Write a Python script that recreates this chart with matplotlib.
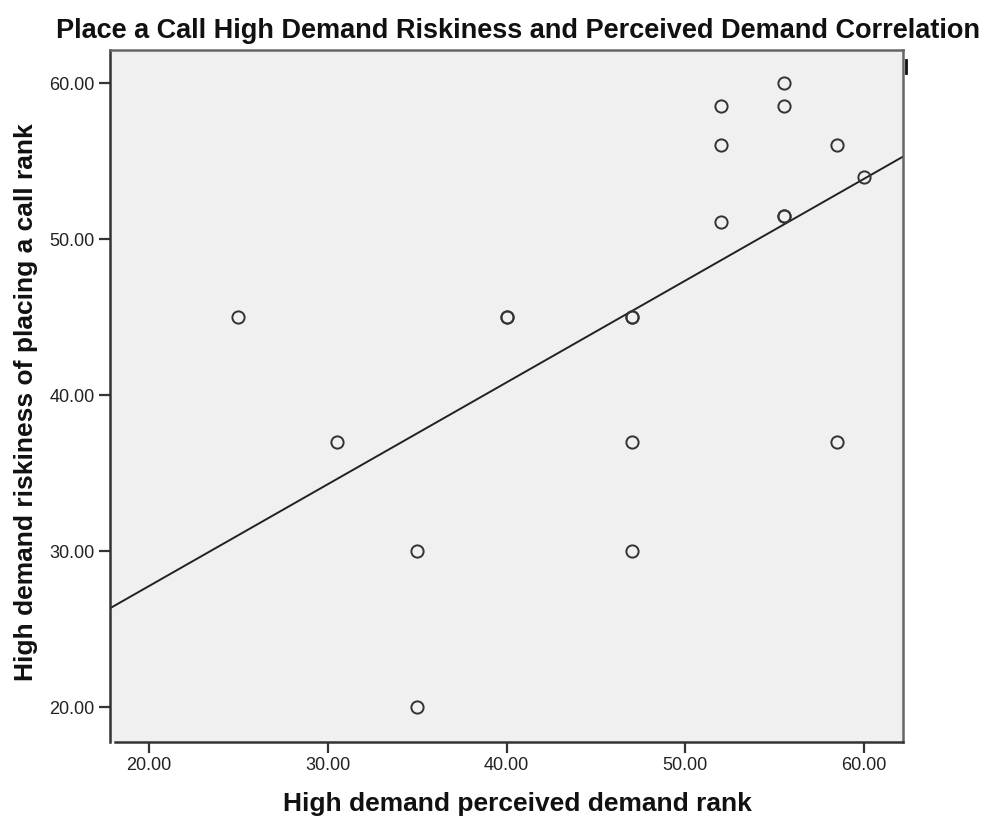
import numpy as np
from matplotlib import pyplot as plt
from matplotlib.lines import Line2D

# perceived demand rank vs riskiness rank, one row per respondent
perceived_rank = [25, 30.5, 35, 35, 40, 40, 47, 47, 47, 47,
                  52, 52, 52, 55.5, 55.5, 55.5, 55.5, 58.5, 58.5, 60]
riskiness_rank = [45, 37, 30, 20, 45, 45, 45, 45, 37, 30,
                  58.5, 56, 51.1, 60, 58.5, 51.5, 51.5, 56, 37, 54]

ticks = [20, 30, 40, 50, 60]
tick_labels = ["20.00", "30.00", "40.00", "50.00", "60.00"]

TITLE = "Place a Call High Demand Riskiness and Perceived Demand Correlation"
XLABEL = "High demand perceived demand rank"
YLABEL = "High demand riskiness of placing a call rank"


def main():
    plt.rcParams["font.family"] = ["Liberation Sans", "DejaVu Sans"]
    fig = plt.figure(figsize=(9.86, 8.16), dpi=100)
    ax = fig.add_axes([110 / 986, 1 - 742 / 816, 793 / 986, 692 / 816])
    ax.set_facecolor("#f0f0f0")

    x = np.array(perceived_rank)
    y = np.array(riskiness_rank)
    xlim = (17.82, 62.18)
    ylim = (17.76, 62.12)

    # least squares fit across the whole x range
    slope, intercept = np.polyfit(x, y, 1)
    fx = np.array(xlim)
    ax.plot(fx, slope * fx + intercept, color="#222222", lw=1.4, zorder=2)

    ax.plot(x, y, "o", ms=8.8, mfc="none", mec="#333333", mew=1.4, zorder=3)

    ax.set_xlim(*xlim)
    ax.set_ylim(*ylim)
    ax.set_xticks(ticks)
    ax.set_xticklabels(tick_labels)
    ax.set_yticks(ticks)
    ax.set_yticklabels(tick_labels)
    ax.tick_params(length=8, width=1.6, color="#333333", labelsize=13,
                   labelcolor="#222222", pad=3)

    for side in ["left", "bottom"]:
        ax.spines[side].set_color("#333333")
        ax.spines[side].set_linewidth(1.8)
    for side in ["top", "right"]:
        ax.spines[side].set_color("#666666")
        ax.spines[side].set_linewidth(1.8)
    ax.spines["bottom"].set_bounds(18.1, xlim[1])

    fig.text(0.525, 1 - 37.5 / 816, TITLE, ha="center", va="baseline",
             fontsize=19.5, fontweight="bold", color="#111111")
    fig.text(0.525, 1 - 811 / 816, XLABEL, ha="center", va="baseline",
             fontsize=19, fontweight="bold", color="#111111")
    fig.text(0.014, 1 - 402 / 816, YLABEL, ha="left", va="center",
             rotation=90, fontsize=19, fontweight="bold", color="#111111")

    fig.add_artist(Line2D([906 / 986, 906 / 986], [1 - 60 / 816, 1 - 73 / 816],
                          color="#111111", lw=2))

    fig.savefig("out.png", dpi=100)


if __name__ == '__main__':
    main()
